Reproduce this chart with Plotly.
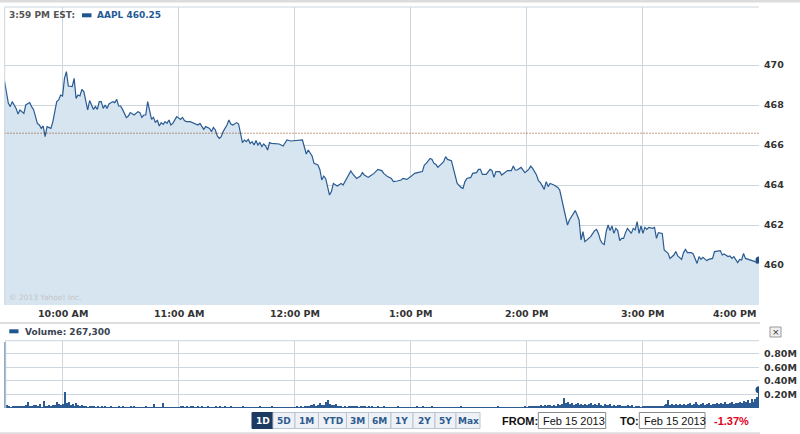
import plotly.graph_objects as go
import pandas as pd

# ---------------- data ----------------
SESSION_DATE = "2013-02-15"
SESSION_OPEN = "09:30"
SYMBOL = "AAPL"
LAST_PRICE = 460.25
LAST_TIME_LABEL = "3:59 PM EST:"
PREV_CLOSE = 466.59
CHANGE_PCT = "-1.37%"
LAST_VOLUME_LABEL = "267,300"
FROM_DATE = "Feb 15 2013"
TO_DATE = "Feb 15 2013"

# minutes after the open, and trade price at that minute
PRICE_MIN = [
    0, 2, 3, 4, 6, 7, 8, 10, 11, 13, 14, 15, 17, 18, 19, 20, 21, 22, 24, 25,
    27, 28, 29, 30, 31, 32, 33, 35, 36, 37, 38, 39, 40, 41, 43, 44, 46, 47, 48, 49,
    50, 51, 52, 53, 54, 56, 57, 58, 59, 60, 61, 63, 64, 65, 67, 69, 70, 71, 72, 73,
    74, 75, 76, 77, 78, 79, 80, 81, 82, 83, 84, 85, 86, 87, 88, 89, 91, 92, 93, 94,
    96, 98, 100, 101, 102, 103, 104, 106, 107, 108, 109, 110, 111, 112, 113, 115, 116, 117, 118, 120,
    121, 122, 123, 124, 125, 126, 127, 128, 129, 130, 131, 132, 133, 134, 135, 136, 137, 138, 140, 142,
    144, 145, 146, 148, 150, 151, 154, 156, 157, 159, 160, 162, 163, 164, 165, 166, 167, 168, 169, 170,
    172, 174, 175, 177, 179, 180, 182, 184, 185, 186, 188, 189, 191, 193, 195, 196, 198, 200, 201, 203,
    205, 206, 208, 210, 212, 214, 216, 217, 218, 220, 221, 222, 223, 224, 226, 227, 228, 229, 231, 232,
    233, 234, 236, 237, 238, 239, 241, 242, 244, 245, 246, 247, 249, 250, 251, 252, 253, 254, 256, 257,
    259, 260, 262, 263, 264, 265, 267, 268, 269, 271, 272, 273, 275, 276, 277, 279, 280, 281, 282, 284,
    286, 287, 288, 289, 290, 291, 292, 294, 295, 296, 297, 298, 299, 300, 301, 302, 303, 305, 306, 307,
    308, 309, 310, 311, 312, 313, 314, 315, 316, 317, 318, 319, 320, 321, 322, 324, 325, 326, 327, 328,
    329, 330, 331, 332, 333, 335, 336, 337, 338, 340, 341, 343, 344, 346, 347, 348, 350, 351, 352, 353,
    355, 356, 358, 359, 360, 361, 363, 364, 366, 367, 369, 370, 371, 372, 374, 375, 376, 377, 379, 380,
    381, 382, 383, 385, 387, 388, 389, 390,
]
PRICES = [
    469.20, 468.08, 467.92, 468.17, 467.83, 467.55, 467.75, 467.58, 468.00, 468.12, 467.92, 467.78, 467.08, 467.00, 466.83, 466.95, 466.42, 466.92, 466.83, 467.17,
    468.17, 468.25, 468.50, 468.45, 469.33, 469.67, 468.95, 468.92, 469.33, 468.33, 468.50, 468.45, 468.78, 468.67, 467.75, 468.22, 467.78, 467.92, 467.78, 468.17,
    468.17, 467.83, 468.00, 467.83, 468.05, 468.17, 468.12, 468.28, 467.95, 467.95, 467.78, 467.37, 467.45, 467.62, 467.50, 467.67, 467.62, 467.38, 467.50, 467.50,
    468.17, 467.75, 467.28, 467.38, 467.12, 467.25, 466.95, 467.12, 467.03, 467.17, 467.08, 467.25, 467.00, 467.08, 467.25, 467.42, 467.28, 467.38, 467.22, 467.17,
    467.17, 467.08, 467.00, 467.08, 466.92, 466.78, 466.92, 466.83, 466.67, 466.88, 466.75, 466.45, 466.33, 466.42, 466.67, 467.00, 467.25, 467.05, 467.00, 467.12,
    467.05, 466.50, 466.12, 466.25, 466.17, 466.28, 466.08, 466.17, 466.00, 466.22, 466.00, 466.12, 465.92, 466.05, 465.95, 465.75, 466.12, 466.08, 466.08, 466.05,
    465.95, 466.08, 466.25, 466.20, 466.22, 466.22, 466.25, 465.55, 465.75, 465.45, 465.08, 465.00, 464.78, 464.25, 464.45, 464.33, 463.83, 463.50, 463.67, 464.08,
    463.95, 464.08, 464.00, 464.33, 464.70, 464.55, 464.33, 464.45, 464.62, 464.50, 464.38, 464.45, 464.58, 464.78, 464.72, 464.58, 464.42, 464.33, 464.17, 464.20,
    464.25, 464.33, 464.28, 464.42, 464.58, 464.63, 464.67, 465.00, 465.08, 465.33, 465.28, 465.08, 465.03, 464.88, 465.08, 465.17, 465.42, 465.28, 465.22, 464.83,
    464.50, 464.08, 463.88, 463.83, 464.17, 464.33, 464.38, 464.58, 464.62, 464.78, 464.78, 464.53, 464.53, 464.67, 464.78, 464.72, 464.38, 464.67, 464.67, 464.50,
    464.67, 464.72, 464.72, 464.95, 464.75, 464.75, 464.88, 464.72, 464.62, 464.78, 464.95, 464.83, 464.50, 464.22, 464.12, 463.78, 464.17, 463.92, 464.08, 464.00,
    463.88, 463.75, 463.33, 462.75, 462.33, 462.00, 462.25, 462.55, 462.72, 462.50, 462.25, 461.25, 461.67, 461.17, 461.25, 461.33, 461.42, 461.72, 461.78, 461.58,
    461.25, 461.08, 461.02, 461.67, 462.00, 461.72, 461.95, 461.58, 461.83, 461.72, 461.22, 461.33, 461.33, 461.62, 461.83, 461.58, 461.83, 461.75, 462.17, 461.58,
    461.95, 461.58, 461.88, 461.78, 461.88, 461.83, 461.88, 461.33, 461.62, 461.58, 460.75, 460.58, 460.33, 460.50, 460.67, 460.45, 460.28, 460.62, 460.78, 460.62,
    460.62, 460.55, 460.08, 460.42, 460.28, 460.38, 460.22, 460.28, 460.33, 460.67, 460.72, 460.72, 460.50, 460.55, 460.42, 460.45, 460.33, 460.42, 460.12, 460.28,
    460.25, 460.58, 460.33, 460.28, 460.22, 460.17, 460.08, 460.25,
]

# volume per minute (thousands of shares), minute 0 .. 390
VOLUME_K = [
    980, 45, 30, 25, 28, 35, 30, 40, 32, 38,
    28, 45, 90, 35, 30, 55, 42, 38, 60, 25,
    110, 40, 35, 48, 30, 45, 55, 100, 60, 50,
    70, 240, 85, 90, 45, 60, 40, 75, 50, 35,
    45, 30, 38, 25, 30, 28, 35, 22, 30, 25,
    28, 20, 32, 25, 22, 30, 18, 25, 20, 28,
    22, 30, 25, 18, 20, 35, 22, 28, 18, 25,
    20, 15, 22, 30, 18, 25, 20, 60, 22, 18,
    25, 20, 75, 22, 18, 15, 20, 25, 18, 22,
    25, 30, 28, 22, 32, 25, 28, 35, 22, 25,
    28, 24, 30, 22, 25, 32, 20, 26, 22, 28,
    24, 30, 22, 25, 28, 20, 24, 30, 22, 26,
    22, 25, 20, 28, 24, 22, 26, 20, 25, 22,
    24, 20, 28, 22, 25, 20, 24, 22, 28, 20,
    22, 25, 20, 24, 22, 26, 20, 22, 25, 22,
    24, 28, 22, 30, 25, 35, 40, 30, 55, 45,
    60, 35, 50, 75, 55, 45, 90, 120, 70, 55,
    45, 60, 40, 35, 30, 25, 32, 22, 28, 30,
    35, 28, 32, 25, 30, 38, 28, 25, 32, 22,
    28, 25, 22, 30, 24, 22, 28, 20, 25, 22,
    24, 20, 22, 28, 20, 22, 25, 20, 24, 22,
    20, 25, 22, 28, 20, 24, 32, 22, 25, 20,
    22, 28, 20, 24, 22, 20, 25, 22, 20, 24,
    22, 20, 26, 22, 24, 20, 28, 22, 25, 20,
    22, 24, 20, 25, 22, 20, 24, 22, 26, 20,
    22, 25, 20, 24, 22, 28, 20, 22, 25, 22,
    24, 20, 22, 26, 22, 20, 24, 22, 25, 28,
    25, 30, 28, 35, 32, 40, 35, 45, 38, 50,
    40, 55, 45, 35, 50, 40, 60, 55, 70, 150,
    80, 95, 60, 75, 50, 70, 85, 55, 65, 45,
    70, 55, 60, 80, 50, 65, 45, 75, 55, 40,
    60, 45, 55, 70, 40, 50, 35, 45, 55, 30,
    40, 35, 50, 30, 45, 25, 40, 30, 35, 25,
    30, 38, 32, 35, 28, 40, 32, 35, 30, 38,
    35, 45, 60, 125, 55, 70, 50, 65, 45, 60,
    55, 70, 45, 60, 80, 50, 65, 100, 70, 55,
    60, 75, 50, 65, 80, 55, 70, 60, 85, 65,
    75, 60, 90, 70, 65, 80, 95, 70, 85, 75,
    100, 80, 110, 90, 120, 85, 130, 100, 140, 160,
    267.3,
]

HOUR_TICKS = ["10:00", "11:00", "12:00", "13:00", "14:00", "15:00", "16:00"]
HOUR_LABELS = ["10:00 AM", "11:00 AM", "12:00 PM", "1:00 PM", "2:00 PM", "3:00 PM", "4:00 PM"]
PRICE_TICKS = [460, 462, 464, 466, 468, 470]
VOL_TICKS = [200000, 400000, 600000, 800000]
VOL_TICK_LABELS = ["0.20M", "0.40M", "0.60M", "0.80M"]
RANGE_BUTTONS = ["1D", "5D", "1M", "YTD", "3M", "6M", "1Y", "2Y", "5Y", "Max"]
SELECTED_BUTTON = "1D"

# ---------------- derived ----------------
open_ts = pd.Timestamp(f"{SESSION_DATE} {SESSION_OPEN}")
close_ts = pd.Timestamp(f"{SESSION_DATE} {HOUR_TICKS[-1]}")
price_t = open_ts + pd.to_timedelta(PRICE_MIN, unit="m")
vol_t = open_ts + pd.to_timedelta(list(range(len(VOLUME_K))), unit="m")
volume = [v * 1000 for v in VOLUME_K]
hour_ts = [pd.Timestamp(f"{SESSION_DATE} {h}") for h in HOUR_TICKS]

# ---------------- styling ----------------
W, H = 800, 434
def X(px): return px / W
def Y(py): return 1 - py / H

GRID = "#cbd6df"
LINE = "#2a5b92"
FILL = "#d6e5f0"
DARK = "#1f4f86"
TXT = "#333333"
VERD = "DejaVu Sans"
ARIAL = "Liberation Sans"

fig = go.Figure()

fig.add_trace(go.Scatter(
    x=price_t, y=PRICES, mode="lines", fill="tozeroy", fillcolor=FILL,
    line=dict(color=LINE, width=1.2), xaxis="x", yaxis="y", hoverinfo="skip",
))
fig.add_trace(go.Scatter(
    x=[price_t[-1]], y=[PRICES[-1]], mode="markers",
    marker=dict(color=DARK, size=7), xaxis="x", yaxis="y", cliponaxis=True,
))
fig.add_trace(go.Bar(
    x=vol_t, y=volume, width=40000, marker=dict(color="#2c5a92", line=dict(width=0)),
    xaxis="x2", yaxis="y2",
))
fig.add_trace(go.Scatter(
    x=[vol_t[-1]], y=[volume[-1]], mode="markers",
    marker=dict(color=DARK, size=7), xaxis="x2", yaxis="y2", cliponaxis=True,
))

xdom = [X(4.5), X(759)]
common_x = dict(
    domain=xdom, type="date", range=[open_ts, close_ts], tickvals=hour_ts,
    showticklabels=False, showgrid=True, gridcolor=GRID, gridwidth=1,
    zeroline=False, showline=False, ticks="", fixedrange=True,
)
fig.update_layout(
    width=W, height=H, margin=dict(l=0, r=0, t=0, b=0),
    paper_bgcolor="white", plot_bgcolor="white", showlegend=False,
    bargap=0,
    xaxis=dict(anchor="y", **common_x),
    xaxis2=dict(anchor="y2", matches="x", **common_x),
    yaxis=dict(
        domain=[Y(305), Y(7)], range=[458, 472.9], side="right",
        tickvals=PRICE_TICKS, ticktext=[str(v) for v in PRICE_TICKS],
        tickfont=dict(family=VERD, size=9.5, color=TXT, weight="bold"),
        showgrid=True, gridcolor=GRID, zeroline=False, ticks="",
        ticklabelstandoff=4, fixedrange=True,
    ),
    yaxis2=dict(
        domain=[Y(408), Y(340.7)], range=[0, 990000], side="right",
        tickvals=VOL_TICKS, ticktext=VOL_TICK_LABELS,
        tickfont=dict(family=VERD, size=9.5, color=TXT, weight="bold"),
        showgrid=True, gridcolor=GRID, zeroline=False, ticks="",
        ticklabelstandoff=4, fixedrange=True,
    ),
)

shapes = []
# previous close dotted line
shapes.append(dict(type="line", xref="x domain", yref="y", x0=0, x1=1,
                   y0=PREV_CLOSE, y1=PREV_CLOSE, line=dict(color="#8c3812", width=1, dash="1px,2px")))
# page / panel borders
shapes.append(dict(type="line", xref="paper", yref="paper", x0=0, x1=1, y0=Y(1.2), y1=Y(1.2),
                   line=dict(color="#dcdcdc", width=2.5)))
shapes.append(dict(type="line", xref="paper", yref="paper", x0=X(4.5), x1=X(759), y0=Y(7), y1=Y(7),
                   line=dict(color=GRID, width=1)))
shapes.append(dict(type="line", xref="paper", yref="paper", x0=X(4.7), x1=X(4.7), y0=Y(7), y1=Y(305),
                   line=dict(color=GRID, width=1)))
shapes.append(dict(type="line", xref="paper", yref="paper", x0=0, x1=X(760), y0=Y(323), y1=Y(323),
                   line=dict(color="#dddddd", width=2)))
shapes.append(dict(type="line", xref="paper", yref="paper", x0=X(5.5), x1=X(759), y0=Y(340.7), y1=Y(340.7),
                   line=dict(color=GRID, width=1)))
shapes.append(dict(type="line", xref="paper", yref="paper", x0=X(5.7), x1=X(5.7), y0=Y(340.7), y1=Y(408),
                   line=dict(color=GRID, width=1)))
shapes.append(dict(type="line", xref="paper", yref="paper", x0=0, x1=X(760), y0=Y(433.3), y1=Y(433.3),
                   line=dict(color="#dddddd", width=2)))
# legend swatches
shapes.append(dict(type="rect", xref="paper", yref="paper", x0=X(82), x1=X(91.5), y0=Y(17.3), y1=Y(13.3),
                   fillcolor="#1f5590", line=dict(width=0)))
shapes.append(dict(type="rect", xref="paper", yref="paper", x0=X(9.3), x1=X(18.5), y0=Y(333.3), y1=Y(329.3),
                   fillcolor="#1f5590", line=dict(width=0)))
# close button of the volume panel
shapes.append(dict(type="rect", xref="paper", yref="paper", x0=X(770), x1=X(781), y0=Y(337), y1=Y(327),
                   fillcolor="#f0f0f0", line=dict(color="#999999", width=1)))

annotations = []
def txt(x, y, s, size=9, color=TXT, family=VERD, weight="bold", xanchor="left", **kw):
    annotations.append(dict(xref="paper", yref="paper", x=X(x), y=Y(y), text=s, showarrow=False,
                            xanchor=xanchor, yanchor="middle",
                            font=dict(family=family, size=size, color=color, weight=weight), **kw))

# x-axis hour labels
for i, (t, lab) in enumerate(zip(hour_ts, HOUR_LABELS)):
    last = i == len(hour_ts) - 1
    annotations.append(dict(xref="x", yref="paper", x=t, y=Y(313.5), text=lab, showarrow=False,
                            xanchor="right" if last else "center", yanchor="middle",
                            xshift=-1 if last else 0,
                            font=dict(family=VERD, size=9.5, color=TXT, weight="bold")))

txt(6.5, 15.5, LAST_TIME_LABEL, color="#555555")
txt(95, 15.5, f"{SYMBOL} {LAST_PRICE:.2f}", color="#1f5a96")
txt(22.5, 331.5, f"Volume: {LAST_VOLUME_LABEL}", color="#3a4450")
txt(6.5, 297.5, "© 2013 Yahoo! Inc.", size=7.5, color="#c4c4c4", weight="normal")
txt(775.5, 332, "×", size=9, color="#333333", xanchor="center", weight="normal")

# range buttons
edges = [252, 273, 295, 318.5, 346.5, 368.5, 391, 413, 435, 456, 480]
for i, lab in enumerate(RANGE_BUTTONS):
    sel = lab == SELECTED_BUTTON
    shapes.append(dict(type="rect", xref="paper", yref="paper", x0=X(edges[i]), x1=X(edges[i + 1]),
                       y0=Y(428.5), y1=Y(412.5),
                       fillcolor="#1c3a62" if sel else "#eef1f5",
                       line=dict(color="#1c3a62" if sel else "#b9c5d1", width=1)))
    txt((edges[i] + edges[i + 1]) / 2, 420.8, lab, size=9,
        color="white" if sel else "#2d5b90", xanchor="center")

# date range fields
txt(499.5, 420.5, "FROM:", size=11, color="#111111", family=ARIAL)
shapes.append(dict(type="rect", xref="paper", yref="paper", x0=X(538.3), x1=X(605.7), y0=Y(428.5), y1=Y(412.5),
                   fillcolor="white", line=dict(color="#8a8a8a", width=1)))
txt(541, 420.5, FROM_DATE, size=11, color="#111111", family=ARIAL, weight="normal")
txt(618, 420.5, "TO:", size=11, color="#111111", family=ARIAL)
shapes.append(dict(type="rect", xref="paper", yref="paper", x0=X(639.3), x1=X(705), y0=Y(428.5), y1=Y(412.5),
                   fillcolor="white", line=dict(color="#8a8a8a", width=1)))
txt(642, 420.5, TO_DATE, size=11, color="#111111", family=ARIAL, weight="normal")
txt(712, 420.5, CHANGE_PCT, size=11, color="#e0001b", family=ARIAL)

fig.update_layout(shapes=shapes, annotations=annotations)
fig.write_html(
    "out.html",
    config={"displayModeBar": False},
    post_script="document.body.style.margin='0';document.body.style.overflow='hidden';",
)
